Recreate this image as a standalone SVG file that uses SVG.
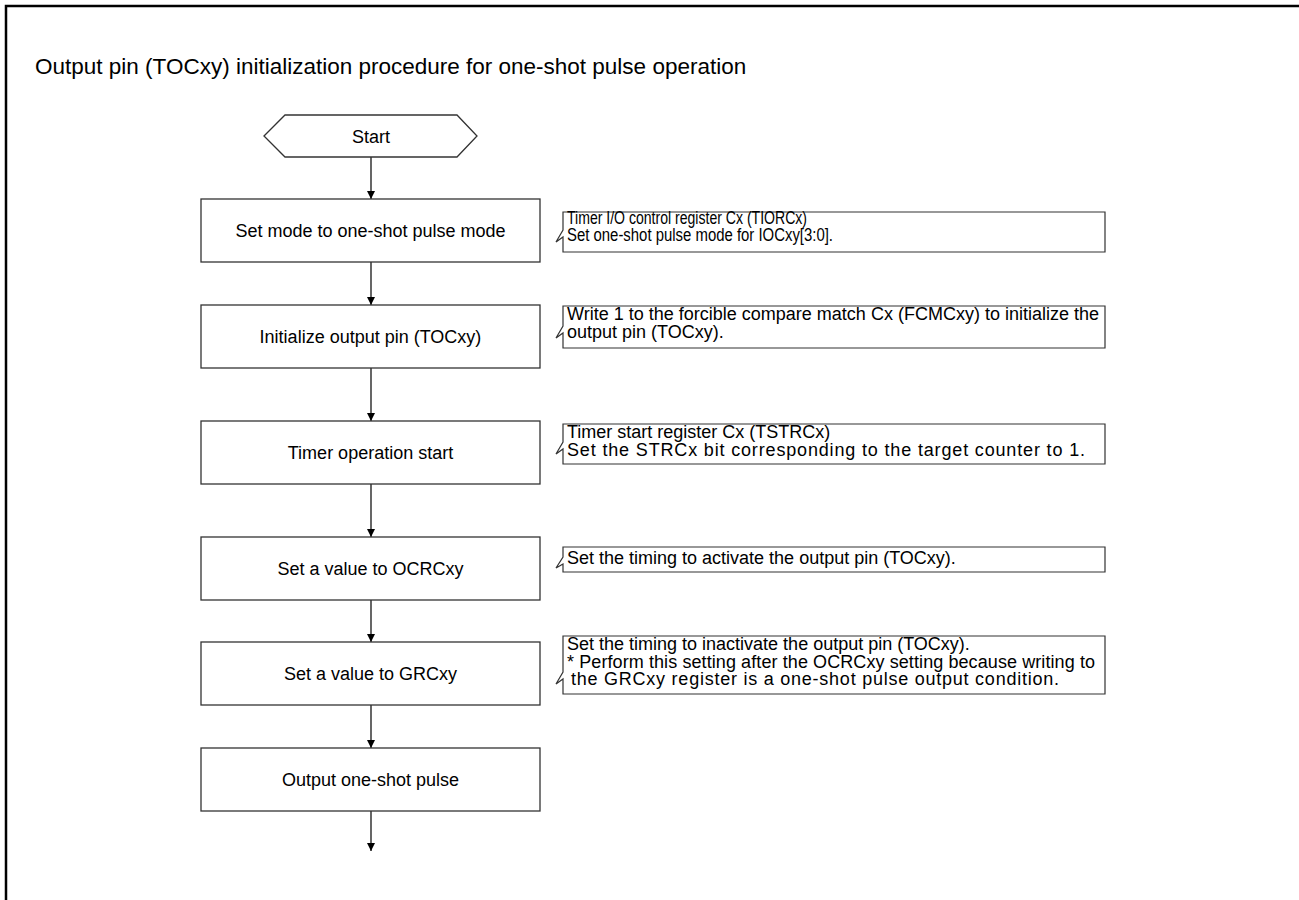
<svg xmlns="http://www.w3.org/2000/svg" width="1299" height="900" viewBox="0 0 1299 900">
<defs>
<marker id="ah" viewBox="0 0 8 10" refX="8" refY="5" markerWidth="8" markerHeight="10" markerUnits="userSpaceOnUse" orient="auto">
<path d="M0,1 L8,5 L0,9 Z" fill="#000"/>
</marker>
<style>
.frame{fill:none;stroke:#000;stroke-width:2.5}
.box{fill:#fff;stroke:#333;stroke-width:1.3}
.note{fill:#fff;stroke:#333;stroke-width:1.2}
.conn{fill:none;stroke:#000;stroke-width:1.2;marker-end:url(#ah)}
.t{font-family:"Liberation Sans",Arial,sans-serif;font-size:18px;fill:#000}
.c{text-anchor:middle}
.title{font-family:"Liberation Sans",Arial,sans-serif;font-size:22.5px;fill:#000}
.n{font-family:"Liberation Sans",Arial,sans-serif;font-size:18px;fill:#000}
</style>
</defs>
<rect width="1299" height="900" fill="#fff"/>
<path class="frame" d="M6,900 V6 H1299"/>
<text class="title" x="35" y="74">Output pin (TOCxy) initialization procedure for one-shot pulse operation</text>

<g id="connectors">
<line class="conn" x1="371" y1="157" x2="371" y2="199"/>
<line class="conn" x1="371" y1="262" x2="371" y2="305"/>
<line class="conn" x1="371" y1="368" x2="371" y2="421"/>
<line class="conn" x1="371" y1="484" x2="371" y2="537"/>
<line class="conn" x1="371" y1="600" x2="371" y2="642"/>
<line class="conn" x1="371" y1="705" x2="371" y2="748"/>
<line class="conn" x1="371" y1="811" x2="371" y2="851"/>
</g>

<g id="start">
<polygon class="box" points="264,136 285,115 457,115 477,136 457,157 285,157"/>
<text class="t c" x="371" y="142.5">Start</text>
</g>
<g id="step1">
<rect class="box" x="201" y="199" width="339" height="63"/>
<text class="t c" x="370.5" y="237">Set mode to one-shot pulse mode</text>
</g>
<g id="step2">
<rect class="box" x="201" y="305" width="339" height="63"/>
<text class="t c" x="370.5" y="343">Initialize output pin (TOCxy)</text>
</g>
<g id="step3">
<rect class="box" x="201" y="421" width="339" height="63"/>
<text class="t c" x="370.5" y="459">Timer operation start</text>
</g>
<g id="step4">
<rect class="box" x="201" y="537" width="339" height="63"/>
<text class="t c" x="370.5" y="575">Set a value to OCRCxy</text>
</g>
<g id="step5">
<rect class="box" x="201" y="642" width="339" height="63"/>
<text class="t c" x="370.5" y="680">Set a value to GRCxy</text>
</g>
<g id="step6">
<rect class="box" x="201" y="748" width="339" height="63"/>
<text class="t c" x="370.5" y="786">Output one-shot pulse</text>
</g>

<g id="note1">
<path class="note" d="M563,212 H1105 V252 H563 V237 L556,242 L563,230 Z"/>
<text class="n" x="567" y="224" textLength="240" lengthAdjust="spacingAndGlyphs">Timer I/O control register Cx (TIORCx)</text>
<text class="n" x="567" y="241" textLength="266" lengthAdjust="spacingAndGlyphs">Set one-shot pulse mode for IOCxy[3:0].</text>
</g>
<g id="note2">
<path class="note" d="M563,306 H1105 V348 H563 V333 L556,338 L563,326 Z"/>
<text class="n" x="567" y="320" textLength="532" lengthAdjust="spacingAndGlyphs">Write 1 to the forcible compare match Cx (FCMCxy) to initialize the</text>
<text class="n" x="567" y="338">output pin (TOCxy).</text>
</g>
<g id="note3">
<path class="note" d="M563,424 H1105 V464 H563 V449 L556,454 L563,442 Z"/>
<text class="n" x="567" y="438">Timer start register Cx (TSTRCx)</text>
<text class="n" x="567" y="456" textLength="518" lengthAdjust="spacing">Set the STRCx bit corresponding to the target counter to 1.</text>
</g>
<g id="note4">
<path class="note" d="M563,547 H1105 V572 H563 V564 L556,568 L563,557 Z"/>
<text class="n" x="567" y="564">Set the timing to activate the output pin (TOCxy).</text>
</g>
<g id="note5">
<path class="note" d="M563,636 H1105 V694 H563 V679 L556,684 L563,672 Z"/>
<text class="n" x="567" y="650">Set the timing to inactivate the output pin (TOCxy).</text>
<text class="n" x="567" y="668" textLength="528" lengthAdjust="spacing">* Perform this setting after the OCRCxy setting because writing to</text>
<text class="n" x="571" y="685" textLength="488" lengthAdjust="spacing">the GRCxy register is a one-shot pulse output condition.</text>
</g>
</svg>
